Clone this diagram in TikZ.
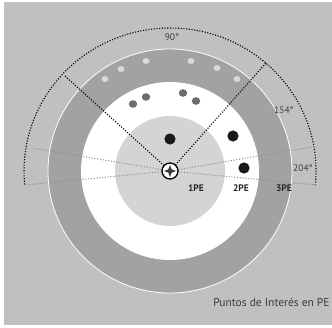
\documentclass[tikz,border=0pt]{standalone}
\usepackage{fontspec}
\setmainfont{PT Sans}
\definecolor{fondo}{RGB}{191,192,194}
\definecolor{anillo}{RGB}{161,162,164}
\definecolor{nucleo}{RGB}{211,212,213}
\definecolor{puntoclaro}{RGB}{216,217,219}
\definecolor{puntomedio}{RGB}{108,109,111}
\definecolor{lineagris}{RGB}{150,143,134}
\definecolor{texto}{RGB}{60,60,62}
\begin{document}
\begin{tikzpicture}[x=1pt,y=1pt,every node/.style={font=\fontsize{9.5}{11}\selectfont,text=texto,inner sep=0pt}]
  \useasboundingbox (-170,-156) rectangle (162,171);
  \fill[fondo] (-166,-154) rectangle (162,169);
  % anillos
  \fill[anillo] (0,0) circle[radius=122];
  \draw[white,line width=0.8pt] (0,0) circle[radius=122];
  \fill[white] (0,0) circle[radius=89];
  \fill[nucleo] (0,0) circle[radius=55];
  % puntos de interes
  \foreach \x/\y in {-65/92,-49/102,-24/110,21/110,47/103,67/92}
    \fill[puntoclaro] (\x,\y) ellipse[x radius=3.4,y radius=3];
  \foreach \x/\y in {-37/67,-24/74,13/78,26/70}
    \fill[puntomedio] (\x,\y) ellipse[x radius=4.2,y radius=3.8];
  \foreach \x/\y in {0/32,63/35,74/3}
    \fill[black!90] (\x,\y) circle[radius=5.6];
  % campo visual
  \coordinate (a1) at (96,108);
  \coordinate (a2) at (-105,95);
  \coordinate (b1) at (142,24);
  \coordinate (b2) at (146,-14);
  \coordinate (b3) at (-138,23);
  \coordinate (b4) at (-145,-14);
  \coordinate (c) at (0,0);
  \draw[black,line width=1.1pt,dash pattern=on 1.1pt off 1.6pt]
    (145.3,-14.2) arc[start angle=-5.7,end angle=185.7,x radius=146,y radius=143];
  \foreach \p in {b1,b2,b3,b4}
    \draw[lineagris,line width=1pt,dash pattern=on 1.1pt off 1.7pt] (c) -- (\p);
  \foreach \p in {a1,a2}
    \draw[black,line width=1.1pt,dash pattern=on 1.1pt off 1.6pt] (c) -- (\p);
  \node[circle,draw=black,fill=white,line width=1.3pt,minimum size=16pt] (obs) at (c) {};
  \fill[texto] (0,6) -- (1.7,1.7) -- (6,0) -- (1.7,-1.7) -- (0,-6) -- (-1.7,-1.7) -- (-6,0) -- (-1.7,1.7) -- cycle;
  % textos
  \node (g90) at (2,134) {90°};
  \node (g154) at (114,61) {154°};
  \node (g204) at (133,3) {204°};
  \node[font=\fontsize{9.5}{11}\selectfont\bfseries,text=black!85] (pe1) at (26,-17) {1PE};
  \node[font=\fontsize{9.5}{11}\selectfont\bfseries,text=black!85] (pe2) at (71,-17) {2PE};
  \node[font=\fontsize{9.5}{11}\selectfont\bfseries,text=black!85] (pe3) at (114,-17) {3PE};
  \node[font=\fontsize{11.5}{13}\selectfont] (titulo) at (101.5,-131) {Puntos de Interés en PE};
\end{tikzpicture}
\end{document}
